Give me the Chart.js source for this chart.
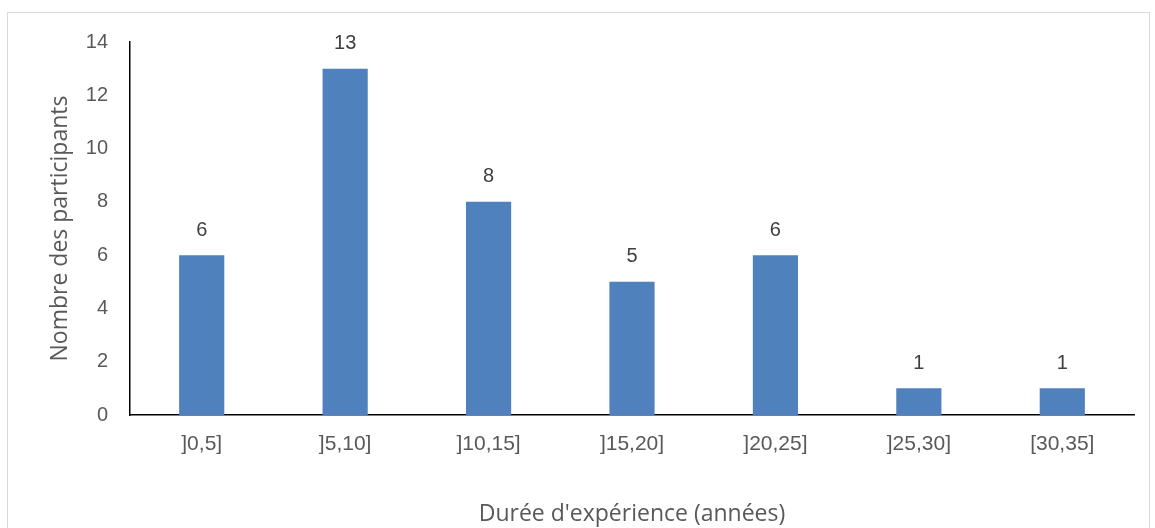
<!DOCTYPE html>
<html>
<head>
<meta charset="utf-8">
<script src="https://cdn.jsdelivr.net/npm/chart.js@4/dist/chart.umd.min.js"></script>
<style>
  html,body{margin:0;padding:0;background:#fff;}
  #wrap{width:1155px;height:528px;position:relative;}
</style>
</head>
<body>
<div id="wrap"><canvas id="chart" width="1155" height="528"></canvas></div>
<script>
const categories=["]0,5]","]5,10]","]10,15]","]15,20]","]20,25]","]25,30]","[30,35]"];
const participants=[6,13,8,5,6,1,1];
const yTicks=[0,2,4,6,8,10,12,14];

const TITLE_FONT="'Open Sans', sans-serif";
const TICK_FONT="'Liberation Sans', Arial, sans-serif";

// frame around the whole chart
const framePlugin={
  id:"frame",
  beforeDraw(chart){
    const c=chart.ctx;
    c.save();
    c.strokeStyle="#d9d9d9";
    c.lineWidth=1;
    c.strokeRect(7.5,12.5,1142,540);
    c.restore();
  }
};

// value above each bar
const valuePlugin={
  id:"values",
  afterDatasetsDraw(chart){
    const c=chart.ctx;
    const meta=chart.getDatasetMeta(0);
    c.save();
    c.fillStyle="#404040";
    c.font="20px "+TICK_FONT;
    c.textAlign="center";
    c.textBaseline="middle";
    meta.data.forEach((bar,i)=>{
      c.fillText(String(participants[i]),bar.x,bar.y-25);
    });
    c.restore();
  }
};

new Chart(document.getElementById("chart"),{
  type:"bar",
  data:{
    labels:categories,
    datasets:[{
      data:participants,
      backgroundColor:"#4f81bd",
      categoryPercentage:1,
      barPercentage:0.315
    }]
  },
  options:{
    responsive:false,
    animation:false,
    events:[],
    layout:{padding:{left:0,top:42,right:21,bottom:0}},
    plugins:{legend:{display:false},tooltip:{enabled:false}},
    scales:{
      x:{
        grid:{display:false,drawTicks:false},
        border:{display:true,color:"#000",width:1.5},
        ticks:{color:"#595959",font:{family:TICK_FONT,size:21},padding:17,maxRotation:0},
        title:{display:true,text:"Durée d'expérience (années)",color:"#595959",
          font:{family:TITLE_FONT,size:23},padding:{top:0,bottom:0}},
        afterFit(s){s.height=113;}
      },
      y:{
        min:0,max:14,
        grid:{display:false,drawTicks:false},
        border:{display:true,color:"#000",width:1.5},
        afterBuildTicks(s){s.ticks=yTicks.map(v=>({value:v}));},
        ticks:{color:"#595959",font:{family:TICK_FONT,size:20},padding:22},
        title:{display:true,text:"Nombre des participants",color:"#595959",
          font:{family:TITLE_FONT,size:23},padding:{top:47,bottom:0}},
        afterFit(s){s.width=130;}
      }
    }
  },
  plugins:[framePlugin,valuePlugin]
});
</script>
</body>
</html>
